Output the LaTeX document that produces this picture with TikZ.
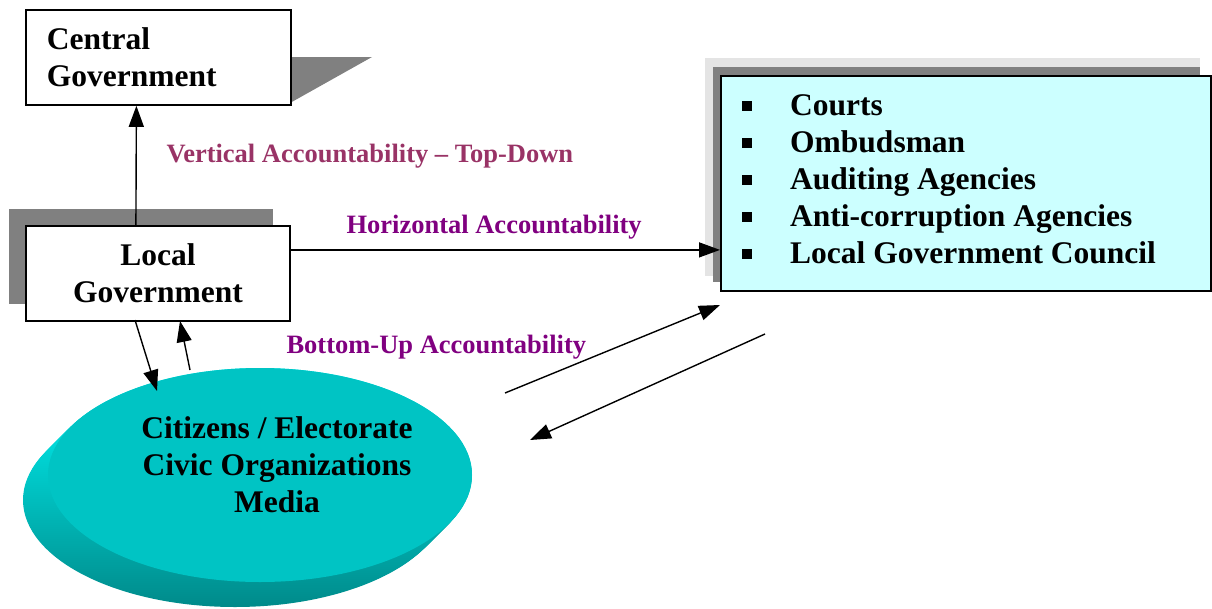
\documentclass[tikz,border=0pt]{standalone}
\usepackage{fontspec}
\setmainfont{Liberation Serif}
\usetikzlibrary{arrows.meta,shapes.geometric,calc}
\definecolor{shadowgray}{HTML}{808080}
\definecolor{lightshadow}{HTML}{E4E4E4}
\definecolor{boxcyan}{HTML}{CCFFFF}
\definecolor{topteal}{HTML}{00C4C4}
\definecolor{rimhi}{HTML}{00F0F0}
\definecolor{rimlo}{HTML}{008A8A}
\definecolor{vertcol}{HTML}{993366}
\definecolor{purp}{HTML}{800080}
\newcommand{\sqbul}{\makebox[48pt][l]{\raisebox{5pt}{\rule{10pt}{10pt}}}}
\begin{document}
\begin{tikzpicture}[x=1pt,y=-1pt,
  box/.style={draw, line width=1.8pt, fill=white, inner sep=0pt},
  big/.style={font=\bfseries\fontsize{31.5}{37}\selectfont},
  lab/.style={font=\bfseries\fontsize{26.5}{30}\selectfont},
  arr/.style={line width=1.4pt, -{Triangle[length=21pt,width=15pt]}}]
\useasboundingbox (0,0) rectangle (1212,608);

% ---- Central Government ----
\fill[shadowgray] (290,57) -- (372,57) -- (290,103) -- cycle;
\node[box, big, anchor=north west, minimum width=265pt, minimum height=95pt,
      text width=223pt, inner xsep=21pt, align=left] (cg) at (25,9)
      {Central\\Government};

% ---- Local Government ----
\fill[shadowgray] (9,209) rectangle (273,304);
\node[box, big, anchor=north west, minimum width=264pt, minimum height=95pt,
      align=center] (lg) at (25,225) {Local\\Government};

% ---- Right box ----
\fill[lightshadow] (705,58) rectangle (1200,276);
\fill[shadowgray] (713,67) rectangle (1200,282);
\node[box, fill=boxcyan, anchor=north west, minimum width=490pt,
      minimum height=215pt] (rb) at (720,75) {};
\node[big, anchor=west, align=left, inner sep=0pt] (list) at ([xshift=22pt,yshift=4pt]rb.west)
  {\sqbul Courts\\
   \sqbul Ombudsman\\
   \sqbul Auditing Agencies\\
   \sqbul Anti-corruption Agencies\\
   \sqbul Local Government Council};

% ---- Citizens ellipse ----
\foreach \i in {0,...,25}{
  \shade[top color=rimhi, bottom color=rimlo] (260-\i,475+\i) ellipse [x radius=212, y radius=107];
}
\node[ellipse, fill=topteal, minimum width=424pt, minimum height=214pt, inner sep=0pt] (cit) at (260,475) {};
\node[big, align=center] (cittext) at (277,465)
  {Citizens / Electorate\\Civic Organizations\\Media};

% ---- Labels ----
\node[lab, text=vertcol, anchor=west] (vlab) at (163,156) {Vertical Accountability -- Top-Down};
\node[lab, text=purp, anchor=west] (hlab) at (343,227) {Horizontal Accountability};
\node[lab, text=purp, anchor=west] (blab) at (283,347) {Bottom-Up Accountability};

% ---- Connectors ----
\draw[arr] ([xshift=-22pt]lg.north) -- ([xshift=-22pt]cg.south);
\draw[arr] ([yshift=23.5pt]lg.east) -- ([yshift=23.5pt]lg.east -| rb.west);
\coordinate (d1) at (135,320);
\coordinate (e1) at (157,391);
\coordinate (e2) at (190,370);
\coordinate (d2) at (180,321);
\draw[arr] (d1) -- (e1);
\draw[arr] (e2) -- (d2);
\coordinate (a1) at (505,393);
\coordinate (a2) at (720,305);
\coordinate (b1) at (765,334);
\coordinate (b2) at (530,440);
\draw[arr] (a1) -- (a2);
\draw[arr] (b1) -- (b2);
\end{tikzpicture}
\end{document}
